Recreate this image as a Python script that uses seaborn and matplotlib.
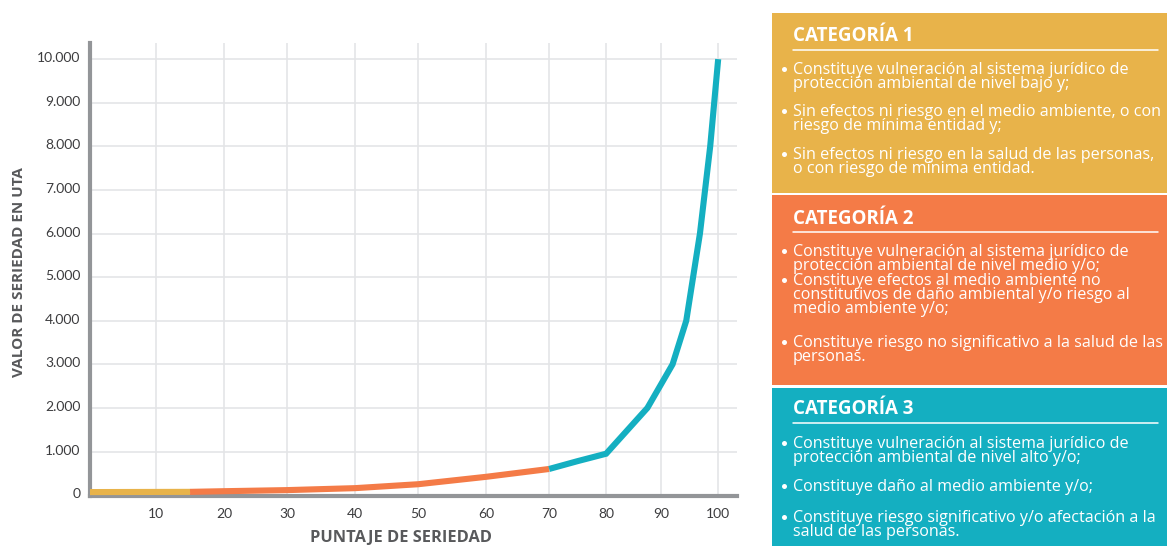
import numpy as np
import pandas as pd
import matplotlib
matplotlib.use("Agg")
import matplotlib.pyplot as plt
import matplotlib.transforms as mtransforms
import seaborn as sns
from matplotlib.patches import Rectangle
from matplotlib.ticker import FuncFormatter, FixedLocator

# --- data -------------------------------------------------------------
cat1_score = [0, 15]
cat1_uta = [70, 75]
cat2_score = [15, 20, 30, 40, 50, 60, 70]
cat2_uta = [75, 90, 115, 160, 250, 420, 600]
cat3_score = [70, 75, 80, 87.5, 92, 94.4, 96.8, 98.6, 100]
cat3_uta = [600, 780, 950, 2000, 3000, 4000, 6000, 8000, 10000]

x_ticks = [10, 20, 30, 40, 50, 60, 70, 80, 90, 100]
y_ticks = [0, 1000, 2000, 3000, 4000, 5000, 6000, 7000, 8000, 9000, 10000]

categories = ["CATEGORÍA 1", "CATEGORÍA 2", "CATEGORÍA 3"]
cat_items = [
    ["Constituye vulneración al sistema jurídico de\nprotección ambiental de nivel bajo y;",
     "Sin efectos ni riesgo en el medio ambiente, o con\nriesgo de mínima entidad y;",
     "Sin efectos ni riesgo en la salud de las personas,\no con riesgo de mínima entidad."],
    ["Constituye vulneración al sistema jurídico de\nprotección ambiental de nivel medio y/o;",
     "Constituye efectos al medio ambiente no\nconstitutivos de daño ambiental y/o riesgo al\nmedio ambiente y/o;",
     "Constituye riesgo no significativo a la salud de las\npersonas."],
    ["Constituye vulneración al sistema jurídico de\nprotección ambiental de nivel alto y/o;",
     "Constituye daño al medio ambiente y/o;",
     "Constituye riesgo significativo y/o afectación a la\nsalud de las personas."],
]

colors = ["#e8b34a", "#f47b47", "#14afc1"]

df = pd.DataFrame({
    "score": cat1_score + cat2_score + cat3_score,
    "uta": cat1_uta + cat2_uta + cat3_uta,
    "cat": [categories[0]] * len(cat1_score)
           + [categories[1]] * len(cat2_score)
           + [categories[2]] * len(cat3_score),
})

# --- figure -----------------------------------------------------------
sns.set_theme(style="white")
plt.rcParams["font.family"] = ["Lato", "DejaVu Sans"]
label_font = ["Open Sans", "DejaVu Sans"]

W, H = 1167, 546
fig = plt.figure(figsize=(W / 100, H / 100), dpi=100)
ax = fig.add_axes([90 / W, 1 - 496 / H, (737 - 90) / W, (496 - 43) / H])

# the score axis is drawn with uneven spacing between decades
anchor_val = np.array([-10, 0, 10, 20, 30, 40, 50, 60, 70, 80, 90, 100, 110])
anchor_pos = np.array([24, 90, 156, 224, 287, 355, 418, 486, 549, 606, 661, 718, 775], float)
ax.set_xscale("function",
              functions=(lambda v: np.interp(v, anchor_val, anchor_pos),
                         lambda p: np.interp(p, anchor_pos, anchor_val)))

sns.lineplot(data=df, x="score", y="uta", hue="cat", palette=colors,
             linewidth=4.4, legend=False, ax=ax, sort=False, zorder=3)
for ln in ax.get_lines():
    ln.set_solid_capstyle("butt")
    ln.set_solid_joinstyle("miter")

ax.set_xlim(0, 103.3)
ax.set_ylim(-20, 10370)
ax.xaxis.set_major_locator(FixedLocator(x_ticks))
ax.yaxis.set_major_locator(FixedLocator(y_ticks))
ax.yaxis.set_major_formatter(FuncFormatter(lambda v, p: f"{int(v):,}".replace(",", ".")))

ax.grid(True, color="#e4e5e7", linewidth=1.2, zorder=0)
ax.set_axisbelow(True)
for s in ["top", "right"]:
    ax.spines[s].set_visible(False)
for s in ["left", "bottom"]:
    ax.spines[s].set_color("#939598")
    ax.spines[s].set_linewidth(3)
ax.tick_params(axis="both", length=0, labelsize=10, labelcolor="#3c3c3e")
ax.tick_params(axis="x", pad=9)
ax.tick_params(axis="y", pad=7)
lift = mtransforms.ScaledTranslation(0, 2 / 100, fig.dpi_scale_trans)
for lab in ax.get_yticklabels():
    lab.set_transform(lab.get_transform() + lift)

ax.set_xlabel("PUNTAJE DE SERIEDAD", fontsize=11.8, fontweight="bold",
              color="#58595b", family=label_font)
ax.set_ylabel("VALOR DE SERIEDAD EN UTA", fontsize=11.0, fontweight="bold",
              color="#58595b", family=label_font)
ax.xaxis.set_label_coords((401 - 90) / 647, (496 - 530) / 453)
ax.yaxis.set_label_coords((26 - 90) / 647, (496 - 272) / 453)

# --- category panel ---------------------------------------------------
pan = fig.add_axes([772 / W, 0, (W - 772) / W, 1])
pan.set_xlim(772, W)
pan.set_ylim(H, 0)
pan.axis("off")

boxes = [(13, 193), (195, 385), (388, 546)]
title_base = [41, 224, 414]
rule_y = [50, 232, 423]
item_mid = [[69, 111, 154], [251, 280, 342], [443, 486, 517]]
for i in range(3):
    y0, y1 = boxes[i]
    pan.add_patch(Rectangle((772, y0), W - 772, y1 - y0, color=colors[i], lw=0))
    pan.text(793, title_base[i], categories[i], color="white", fontsize=13.5,
             fontweight="bold", family=label_font, va="baseline", ha="left")
    pan.plot([793, 1158], [rule_y[i], rule_y[i]], color="white", lw=1.1)
    for j, item in enumerate(cat_items[i]):
        yy = item_mid[i][j]
        pan.plot([783.5], [yy], marker="o", ms=3.6, color="white", mew=0)
        pan.text(793, yy - 7, item, color="white", fontsize=11.6,
                 family=label_font, va="top", ha="left", linespacing=0.82)

fig.savefig("out.png", dpi=100)
